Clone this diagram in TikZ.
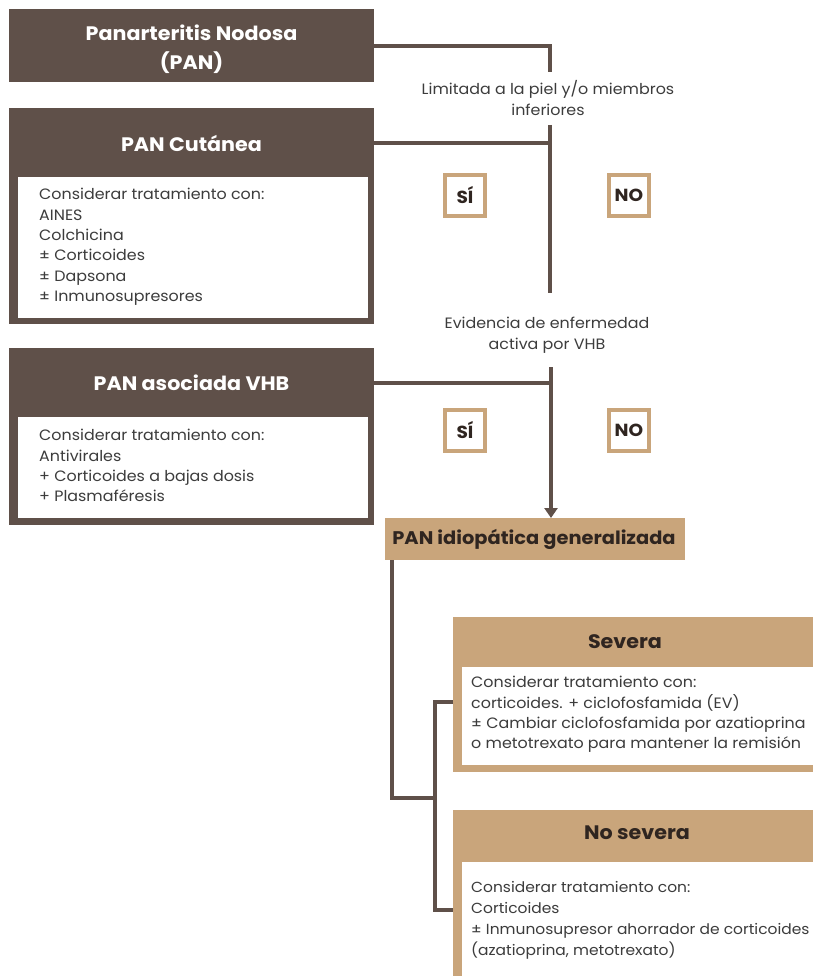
\documentclass[tikz,border=0pt]{standalone}
\usepackage{fontspec}
\setmainfont{Poppins}[FakeStretch=1.06]
\usetikzlibrary{arrows.meta}
\definecolor{dbrown}{HTML}{5F5049}
\definecolor{tanc}{HTML}{C9A57B}
\definecolor{txt}{HTML}{3C3C3C}
\definecolor{ttl}{HTML}{2F2520}
\begin{document}
\begin{tikzpicture}[x=1pt,y=-1pt,
  dbox/.style={fill=dbrown, draw=none, anchor=north west, inner sep=0pt},
  tbox/.style={fill=tanc, draw=none, anchor=north west, inner sep=0pt},
  wbox/.style={fill=white, draw=none, anchor=north west, inner sep=0pt},
  ttlw/.style={text=white, font=\fontsize{19.5}{29}\selectfont\bfseries, align=center, inner sep=0pt},
  ttld/.style={text=ttl, font=\fontsize{19.5}{29}\selectfont\bfseries, align=center, inner sep=0pt},
  body/.style={text=txt, font=\fontsize{15}{20.4}\selectfont, align=left, anchor=north west, inner sep=0pt},
  qlabel/.style={text=txt, font=\fontsize{15}{20.5}\selectfont, align=center, inner sep=0pt},
  yn/.style={draw=tanc, line width=4pt, fill=white, minimum width=40pt, minimum height=41pt, inner sep=0pt, font=\fontsize{17.5}{17.5}\selectfont\bfseries, text=ttl},
  conn/.style={draw=dbrown, line width=4pt}
]
\useasboundingbox (0,0) rectangle (812,976);

% Panarteritis Nodosa
\node[dbox, minimum width=365pt, minimum height=73pt] (pan) at (9,9) {};
\node[ttlw] (panT) at (191.5,49) {Panarteritis Nodosa\\(PAN)};

% PAN Cutanea
\node[dbox, minimum width=365pt, minimum height=216pt] (cut) at (9,108) {};
\node[ttlw] (cutT) at (191.5,143) {PAN Cutánea};
\node[wbox, minimum width=350pt, minimum height=141pt] (cutW) at (18,177) {};
\node[body] (cutB) at (39,188) {Considerar tratamiento con:\\AINES\\Colchicina\\± Corticoides\\± Dapsona\\± Inmunosupresores};

% PAN asociada VHB
\node[dbox, minimum width=365pt, minimum height=177pt] (vhb) at (9,348) {};
\node[ttlw] (vhbT) at (191.5,383) {PAN asociada VHB};
\node[wbox, minimum width=350pt, minimum height=101pt] (vhbW) at (18,417) {};
\node[body] (vhbB) at (39,429) {Considerar tratamiento con:\\Antivirales\\+ Corticoides a bajas dosis\\+ Plasmaféresis};

% questions
\node[qlabel] (q1) at (548,98) {Limitada a la piel y/o miembros\\inferiores};
\node[qlabel] (q2) at (547,335) {Evidencia de enfermedad\\activa por VHB};

\node[yn] (yes1) at (465,195.5) {SÍ};
\node[yn] (no1) at (629,195.5) {NO};
\node[yn] (yes2) at (465,430) {SÍ};
\node[yn] (no2) at (629,430) {NO};

% PAN idiopatica
\node[tbox, minimum width=300pt, minimum height=42pt] (idio) at (385,518) {};
\node[ttld, font=\fontsize{18.3}{20}\selectfont\bfseries] (idioT) at (534,539) {PAN idiopática generalizada};

% Severa
\node[tbox, minimum width=380pt, minimum height=155pt] (sev) at (453,617) {};
\node[ttld] (sevT) at (625,642) {Severa};
\node[wbox, minimum width=370pt, minimum height=98pt] (sevW) at (462,667) {};
\node[body] (sevB) at (471,676) {Considerar tratamiento con:\\corticoides. + ciclofosfamida (EV)\\± Cambiar ciclofosfamida por azatioprina\\o metotrexato para mantener la remisión};

% No severa
\node[tbox, minimum width=380pt, minimum height=180pt] (nsev) at (453,810) {};
\node[ttld] (nsevT) at (637,833) {No severa};
\node[wbox, minimum width=370pt, minimum height=120pt] (nsevW) at (462,862) {};
\node[body, font=\fontsize{14.6}{21}\selectfont] (nsevB) at (471,881) {Considerar tratamiento con:\\Corticoides\\± Inmunosupresor ahorrador de corticoides\\(azatioprina, metotrexato)};

% connectors
\coordinate (q1top) at (550,72);
\coordinate (q1b) at (550,125);
\coordinate (q1e) at (550,293);
\draw[conn] (pan.east) -| (q1top);
\draw[conn] (q1b) -- (q1e);
\draw[conn] (cutT -| cut.east) -- (cutT -| q1b);

\coordinate (q2b) at (551,367);
\draw[conn, -{Triangle[length=10pt,width=13pt]}] (q2b) -- (q2b |- idio.north);
\draw[conn] (vhbT -| vhb.east) -- (vhbT -| q2b);

\coordinate (br) at (435,798);
\coordinate (s1) at (435,702);
\coordinate (s2) at (435,910);
\draw[conn] ([xshift=7pt]idio.south west) |- (br);
\draw[conn] (s1 -| sev.west) -- (s1) -- (s2) -- (s2 -| nsev.west);
\end{tikzpicture}
\end{document}
